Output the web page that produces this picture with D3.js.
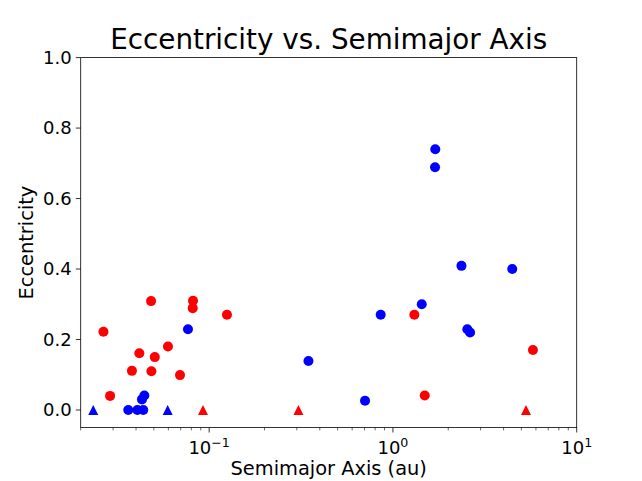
<!DOCTYPE html>
<html>
<head>
<meta charset="utf-8">
<script src="https://cdn.jsdelivr.net/npm/d3@7"></script>
<style>
  body { margin: 0; background: #fff; }
  text { font-family: "DejaVu Sans", sans-serif; fill: #000; }
</style>
</head>
<body>
<svg id="chart" width="642" height="481"></svg>
<script>
// Red series (circles): semimajor axis (au) and eccentricity
const redA = [0.0266, 0.0289, 0.0380, 0.0417, 0.0483, 0.0485, 0.0506, 0.0597, 0.0694, 0.0817, 0.0814, 0.125, 1.308, 1.49, 5.78];
const redE = [0.222, 0.040, 0.111, 0.161, 0.309, 0.110, 0.150, 0.180, 0.099, 0.310, 0.289, 0.270, 0.270, 0.041, 0.170];
// Red series (triangles, e = 0)
const redTriA = [0.0926, 0.306, 5.30];
const redTriE = [0, 0, 0];
// Blue series (circles)
const blueA = [0.0767, 0.0444, 0.0431, 0.0363, 0.0407, 0.0438, 1.70, 1.695, 2.36, 4.46, 1.435, 0.858, 2.54, 2.63, 0.347, 0.705];
const blueE = [0.229, 0.041, 0.030, 0, 0, 0, 0.740, 0.689, 0.409, 0.400, 0.300, 0.270, 0.229, 0.220, 0.139, 0.026];
// Blue series (triangles, e = 0)
const blueTriA = [0.0234, 0.0595];
const blueTriE = [0, 0];

const yTicks = [0.0, 0.2, 0.4, 0.6, 0.8, 1.0];
const xMajorTicks = [0.1, 1, 10];
const xTickLabels = ["-1", "0", "1"];

const svg = d3.select("#chart");
const L = 80.7, R = 576.7, T = 57.6, B = 427.6;

const x = d3.scaleLog().domain([0.02, 10]).range([L, R]);
const y = d3.scaleLinear().domain([-0.05, 1.0]).range([B, T]);

// minor ticks
const minor = [];
[0.01, 0.1, 1].forEach(d => { for (let k = 2; k <= 9; k++) { const v = d * k; if (v >= 0.02 && v <= 10) minor.push(v); } });

const gx = svg.append("g").attr("transform", `translate(0,${B})`);
gx.selectAll("line.minor").data(minor).enter().append("line")
  .attr("x1", d => x(d)).attr("x2", d => x(d)).attr("y1", 0).attr("y2", 2.8)
  .attr("stroke", "#000").attr("stroke-width", 0.6);
gx.selectAll("line.major").data(xMajorTicks).enter().append("line")
  .attr("x1", d => x(d)).attr("x2", d => x(d)).attr("y1", 0).attr("y2", 4.9)
  .attr("stroke", "#000").attr("stroke-width", 0.8);
const xl = gx.selectAll("text.tl").data(xMajorTicks).enter().append("text")
  .attr("x", d => x(d)).attr("y", 26).attr("text-anchor", "middle")
  .style("font-size", "18px");
xl.append("tspan").text("10");
xl.append("tspan").attr("dy", -7).style("font-size", "12.6px")
  .text((d, i) => xTickLabels[i].replace("-", "\u2212"));

const gy = svg.append("g").attr("transform", `translate(${L},0)`);
gy.selectAll("line").data(yTicks).enter().append("line")
  .attr("x1", -4.9).attr("x2", 0).attr("y1", d => y(d)).attr("y2", d => y(d))
  .attr("stroke", "#000").attr("stroke-width", 0.8);
gy.selectAll("text").data(yTicks).enter().append("text")
  .attr("x", -9).attr("y", d => y(d)).attr("dy", "0.35em")
  .attr("text-anchor", "end").style("font-size", "18px")
  .text(d => d.toFixed(1));

// frame
svg.append("rect").attr("x", L).attr("y", T).attr("width", R - L).attr("height", B - T)
  .attr("fill", "none").attr("stroke", "#000").attr("stroke-width", 0.8);

const circ = (A, E, col) => svg.append("g").selectAll("circle").data(A).enter().append("circle")
  .attr("cx", d => x(d)).attr("cy", (d, i) => y(E[i])).attr("r", 5).attr("fill", col);
const tri = (A, E, col) => svg.append("g").selectAll("path").data(A).enter().append("path")
  .attr("transform", (d, i) => `translate(${x(d)},${y(E[i])})`)
  .attr("d", "M0,-5L5,5L-5,5Z").attr("fill", col);

circ(redA, redE, "#ff0000");
tri(redTriA, redTriE, "#ff0000");
circ(blueA, blueE, "#0000ff");
tri(blueTriA, blueTriE, "#0000ff");

// labels
svg.append("text").attr("x", (L + R) / 2).attr("y", 49).attr("text-anchor", "middle")
  .style("font-size", "27.8px").text("Eccentricity vs. Semimajor Axis");
svg.append("text").attr("x", (L + R) / 2).attr("y", 475).attr("text-anchor", "middle")
  .style("font-size", "19.4px").text("Semimajor Axis (au)");
svg.append("text").attr("transform", `translate(33,${(T + B) / 2}) rotate(-90)`)
  .attr("text-anchor", "middle").style("font-size", "19.4px").text("Eccentricity");
</script>
</body>
</html>
